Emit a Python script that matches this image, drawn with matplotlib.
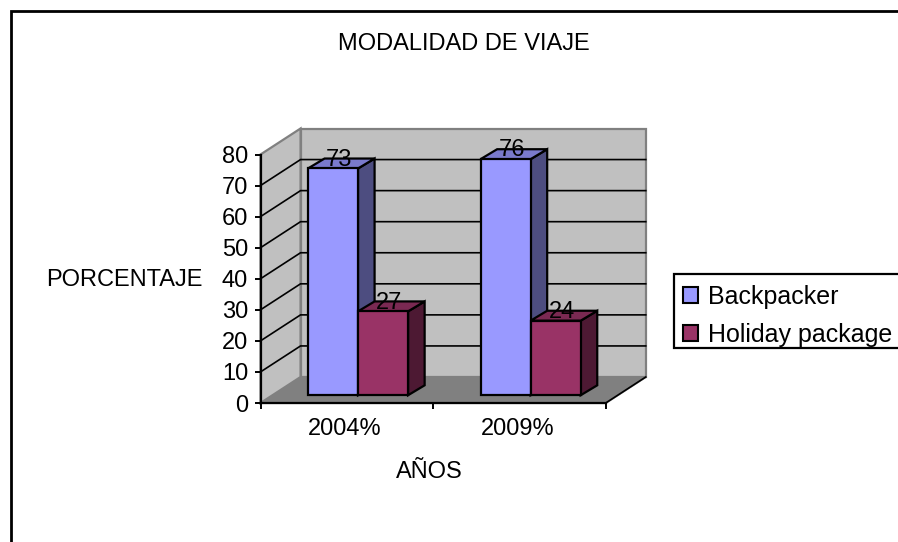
import numpy as np
import matplotlib
matplotlib.use('Agg')
import matplotlib.pyplot as plt
from matplotlib.patches import Polygon, Patch, Rectangle
from matplotlib.lines import Line2D

plt.rcParams['font.family'] = ['Liberation Sans', 'DejaVu Sans']

# data
years = ['2004%', '2009%']
backpacker = [73, 76]
holiday = [27, 24]
y_ticks = [0, 10, 20, 30, 40, 50, 60, 70, 80]

W, H = 898, 542
FS = 17

# 3d look, in data units (1 category wide, 10 per gridline)
wall_dx, wall_dy = 0.232, 8.37
shift_dx, shift_dy = 0.065, 2.5
bar_dx, bar_dy = 0.096, 3.2
bar_w = 0.29

fig = plt.figure(figsize=(W / 100, H / 100), dpi=100, facecolor='white')
ax = fig.add_axes([260.5 / W, (H - 403) / H, 345.2 / W, 248.5 / H])
ax.set_xlim(0, 2)
ax.set_ylim(0, 80)
ax.patch.set_visible(False)


def poly(pts, fc, ec='black', lw=1.6, z=1):
    ax.add_patch(Polygon(pts, closed=True, facecolor=fc, edgecolor=ec, linewidth=lw,
                         zorder=z, clip_on=False, joinstyle='miter'))


# walls and floor
poly([(0, 0), (wall_dx, wall_dy), (2 + wall_dx, wall_dy), (2, 0)], '#808080', ec='#808080')
poly([(wall_dx, wall_dy), (wall_dx, 80 + wall_dy), (2 + wall_dx, 80 + wall_dy), (2 + wall_dx, wall_dy)],
     '#c0c0c0', ec='#808080', lw=1.6)
poly([(0, 0), (0, 80), (wall_dx, 80 + wall_dy), (wall_dx, wall_dy)], '#c0c0c0', ec='#808080', lw=1.6)

# gridlines on the walls
for v in y_ticks[1:-1]:
    ax.plot([0, wall_dx, 2 + wall_dx], [v, v + wall_dy, v + wall_dy], color='black', lw=1.2,
            zorder=2, clip_on=False, solid_joinstyle='miter')
ax.plot([2, 2 + wall_dx], [0, wall_dy], color='black', lw=1.2, zorder=2, clip_on=False)


def bars3d(x, vals, front, side, top, z):
    rects = ax.bar(x, vals, bar_w, bottom=shift_dy, align='edge', color=front, edgecolor='black',
                   linewidth=1.6, zorder=z + 0.5, clip_on=False)
    for r, v in zip(rects, vals):
        x0, x1 = r.get_x(), r.get_x() + r.get_width()
        y0, y1 = r.get_y(), r.get_y() + r.get_height()
        poly([(x1, y0), (x1 + bar_dx, y0 + bar_dy), (x1 + bar_dx, y1 + bar_dy), (x1, y1)], side, z=z)
        poly([(x0, y1), (x0 + bar_dx, y1 + bar_dy), (x1 + bar_dx, y1 + bar_dy), (x1, y1)], top, z=z)
        ax.text(x0 + bar_w / 2 + 0.035, y1 + 2.8, str(v), ha='center', va='center', fontsize=FS,
                color='black', zorder=10)


pos = np.arange(len(years))
# holiday goes on top of the backpacker side face
bars3d(pos + 0.5 + shift_dx - bar_w, backpacker, '#9999ff', '#4d4d80', '#7a7acc', 3)
bars3d(pos + 0.5 + shift_dx, holiday, '#993366', '#4d1933', '#7a2952', 5)

# axes
for s in ['top', 'right']:
    ax.spines[s].set_visible(False)
for s in ['left', 'bottom']:
    ax.spines[s].set_linewidth(1.6)
    ax.spines[s].set_zorder(8)
ax.set_yticks(y_ticks)
ax.set_xticks([0, 1, 2])
ax.set_xticklabels([])
ax.tick_params(axis='both', direction='out', length=4, width=1.4, labelsize=FS, pad=5)
for i, lab in enumerate(years):
    ax.text(i + 0.5 - 0.012, -8.4, lab, ha='center', va='center', fontsize=FS)

# titles
fig.text(464 / W, 1 - 44 / H, 'MODALIDAD DE VIAJE', ha='center', va='center', fontsize=FS)
fig.text(124 / W, 1 - 280 / H, 'PORCENTAJE', ha='center', va='center', fontsize=FS)
fig.text(429 / W, 1 - 472 / H, 'AÑOS', ha='center', va='center', fontsize=FS)

# outer frame, only top and left are in the picture
fig.add_artist(Line2D([11 / W, 11 / W, 1], [0, 1 - 11 / H, 1 - 11 / H], color='black', lw=2.0,
                      solid_joinstyle='miter'))

# legend box runs off the right edge
fig.add_artist(Rectangle((673.5 / W, 1 - 348 / H), 240 / W, 74 / H, transform=fig.transFigure,
                         facecolor='white', edgecolor='black', linewidth=1.6))
handles = [Patch(facecolor='#9999ff', edgecolor='black', linewidth=1.5, label='Backpacker'),
           Patch(facecolor='#993366', edgecolor='black', linewidth=1.5, label='Holiday package')]
fig.legend(handles=handles, loc='upper left', bbox_to_anchor=(683 / W, 1 - 285 / H), frameon=False,
           fontsize=18, borderpad=0, borderaxespad=0, labelspacing=0.56, handlelength=0.6,
           handleheight=0.6, handletextpad=0.4)

fig.savefig('out.png', dpi=100)
